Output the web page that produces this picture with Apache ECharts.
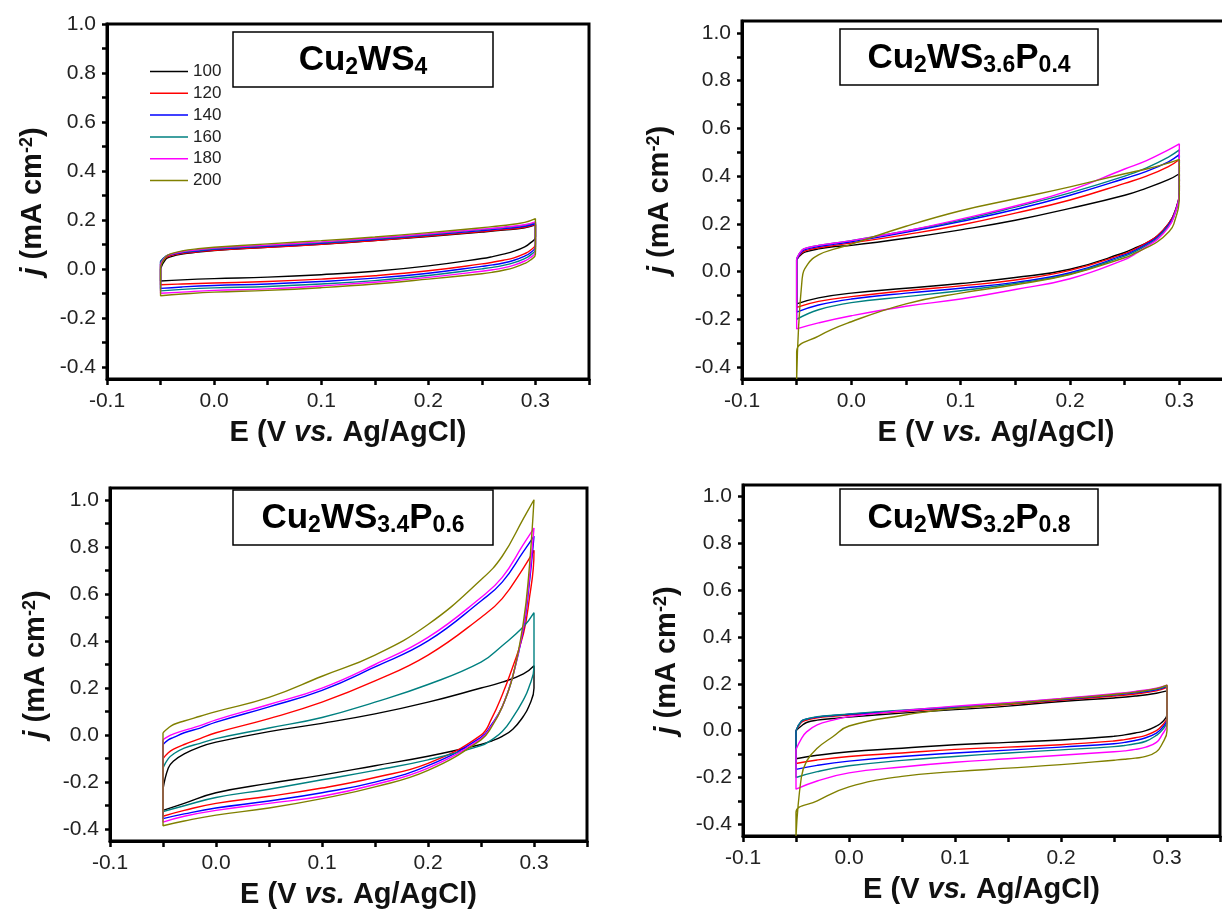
<!DOCTYPE html>
<html>
<head>
<meta charset="utf-8">
<title>CV curves</title>
<script src="https://cdn.jsdelivr.net/npm/echarts@6/dist/echarts.min.js"></script>
<style>
  html, body { margin: 0; padding: 0; background: #fff; }
  #chart { width: 1222px; height: 909px; }
</style>
</head>
<body>
<div id="chart"></div>
<script>
// scan rates shown in the legend (mV s-1)
const scanRates = ['100', '120', '140', '160', '180', '200']
const colors = ['#000000', '#ff0000', '#0000ff', '#008080', '#ff00ff', '#808000']

// potential (V vs. Ag/AgCl) for the forward and the reverse sweep
const eForward = [-0.05, -0.045, -0.04, -0.03, -0.015, 0, 0.05, 0.1, 0.15, 0.2, 0.25, 0.27, 0.29, 0.3]
const eReverse = [0.3, 0.295, 0.29, 0.28, 0.27, 0.26, 0.25, 0.2, 0.15, 0.1, 0.05, 0, -0.03, -0.05]

// tick positions
const xTicks = [-0.1, -0.05, 0, 0.05, 0.1, 0.15, 0.2, 0.25, 0.3, 0.35]
const xLabels = [-0.1, 0, 0.1, 0.2, 0.3]
const yTicks = [-0.4, -0.3, -0.2, -0.1, 0, 0.1, 0.2, 0.3, 0.4, 0.5, 0.6, 0.7, 0.8, 0.9, 1.0]
const yLabels = [-0.4, -0.2, 0, 0.2, 0.4, 0.6, 0.8, 1.0]

// current density j (mA cm-2), one row per scan rate
const cu2ws4Fwd = [
  [0.00, 0.04, 0.05, 0.06, 0.068, 0.075, 0.088, 0.10, 0.115, 0.132, 0.15, 0.158, 0.168, 0.18],
  [0.02, 0.045, 0.055, 0.063, 0.07, 0.076, 0.088, 0.10, 0.116, 0.134, 0.152, 0.16, 0.17, 0.182],
  [0.03, 0.05, 0.058, 0.066, 0.073, 0.08, 0.092, 0.104, 0.12, 0.138, 0.156, 0.164, 0.174, 0.185],
  [0.03, 0.052, 0.06, 0.068, 0.076, 0.082, 0.095, 0.107, 0.123, 0.14, 0.16, 0.168, 0.178, 0.19],
  [0.02, 0.05, 0.06, 0.07, 0.078, 0.085, 0.097, 0.11, 0.126, 0.143, 0.162, 0.17, 0.18, 0.192],
  [0.01, 0.05, 0.062, 0.073, 0.082, 0.088, 0.102, 0.115, 0.13, 0.148, 0.168, 0.177, 0.19, 0.205]
]
const cu2ws4Rev = [
  [0.13, 0.105, 0.09, 0.072, 0.06, 0.05, 0.042, 0.012, -0.01, -0.024, -0.034, -0.04, -0.045, -0.05],
  [0.10, 0.075, 0.062, 0.045, 0.035, 0.027, 0.02, -0.008, -0.028, -0.042, -0.052, -0.058, -0.062, -0.065],
  [0.09, 0.065, 0.052, 0.035, 0.024, 0.016, 0.01, -0.018, -0.038, -0.052, -0.062, -0.068, -0.074, -0.08],
  [0.08, 0.055, 0.042, 0.025, 0.014, 0.006, 0.0, -0.027, -0.048, -0.062, -0.072, -0.078, -0.084, -0.09],
  [0.07, 0.045, 0.032, 0.015, 0.004, -0.004, -0.01, -0.035, -0.055, -0.07, -0.082, -0.088, -0.095, -0.10],
  [0.06, 0.035, 0.022, 0.005, -0.006, -0.014, -0.02, -0.042, -0.062, -0.077, -0.088, -0.095, -0.103, -0.11]
]

const p04Fwd = [
  [0.05, 0.075, 0.085, 0.095, 0.105, 0.11, 0.14, 0.175, 0.215, 0.265, 0.32, 0.35, 0.385, 0.41],
  [0.05, 0.08, 0.09, 0.10, 0.11, 0.12, 0.155, 0.195, 0.245, 0.30, 0.37, 0.40, 0.44, 0.47],
  [0.05, 0.085, 0.095, 0.105, 0.115, 0.125, 0.165, 0.21, 0.26, 0.32, 0.39, 0.42, 0.46, 0.49],
  [0.055, 0.09, 0.10, 0.11, 0.12, 0.13, 0.17, 0.215, 0.27, 0.33, 0.40, 0.435, 0.48, 0.51],
  [0.055, 0.09, 0.10, 0.11, 0.12, 0.13, 0.17, 0.22, 0.275, 0.34, 0.43, 0.465, 0.51, 0.535],
  [-0.45, -0.03, 0.03, 0.07, 0.095, 0.115, 0.19, 0.255, 0.305, 0.355, 0.41, 0.43, 0.455, 0.47]
]
const p04Rev = [
  [0.33, 0.24, 0.2, 0.15, 0.12, 0.1, 0.08, 0.01, -0.025, -0.05, -0.07, -0.09, -0.11, -0.135],
  [0.33, 0.24, 0.2, 0.15, 0.12, 0.095, 0.075, 0.005, -0.035, -0.06, -0.08, -0.105, -0.125, -0.15],
  [0.33, 0.235, 0.195, 0.145, 0.115, 0.09, 0.07, -0.005, -0.045, -0.07, -0.09, -0.115, -0.14, -0.17],
  [0.33, 0.23, 0.19, 0.14, 0.11, 0.085, 0.065, -0.01, -0.05, -0.08, -0.105, -0.13, -0.16, -0.20],
  [0.33, 0.23, 0.185, 0.135, 0.105, 0.075, 0.05, -0.03, -0.075, -0.115, -0.145, -0.185, -0.215, -0.24],
  [0.32, 0.2, 0.165, 0.125, 0.1, 0.078, 0.058, -0.012, -0.055, -0.09, -0.135, -0.21, -0.27, -0.335]
]

const p06Fwd = [
  [-0.23, -0.14, -0.11, -0.08, -0.05, -0.03, 0.015, 0.05, 0.09, 0.14, 0.2, 0.225, 0.26, 0.295],
  [-0.1, -0.075, -0.06, -0.04, -0.015, 0.01, 0.07, 0.14, 0.23, 0.34, 0.5, 0.58, 0.71, 0.785],
  [-0.04, -0.02, -0.01, 0.01, 0.03, 0.055, 0.12, 0.19, 0.29, 0.4, 0.57, 0.65, 0.78, 0.845],
  [-0.14, -0.1, -0.08, -0.055, -0.035, -0.015, 0.03, 0.075, 0.14, 0.215, 0.31, 0.38, 0.46, 0.52],
  [-0.02, -0.005, 0.005, 0.02, 0.04, 0.065, 0.13, 0.2, 0.3, 0.415, 0.585, 0.67, 0.81, 0.88],
  [0.01, 0.03, 0.045, 0.06, 0.08, 0.1, 0.16, 0.25, 0.34, 0.47, 0.66, 0.76, 0.92, 1.0]
]
const p06Rev = [
  [0.2, 0.12, 0.08, 0.025, -0.005, -0.025, -0.04, -0.09, -0.13, -0.17, -0.205, -0.245, -0.29, -0.32],
  [0.78, 0.56, 0.43, 0.29, 0.17, 0.07, 0.0, -0.12, -0.18, -0.225, -0.26, -0.29, -0.32, -0.345],
  [0.845, 0.62, 0.45, 0.25, 0.12, 0.045, -0.01, -0.13, -0.2, -0.245, -0.28, -0.31, -0.335, -0.355],
  [0.29, 0.2, 0.15, 0.075, 0.015, -0.02, -0.045, -0.105, -0.15, -0.19, -0.23, -0.265, -0.3, -0.325],
  [0.88, 0.64, 0.46, 0.25, 0.12, 0.04, -0.015, -0.14, -0.21, -0.26, -0.29, -0.32, -0.345, -0.37],
  [1.0, 0.68, 0.48, 0.25, 0.12, 0.035, -0.02, -0.15, -0.22, -0.27, -0.31, -0.34, -0.365, -0.385]
]

const p08Fwd = [
  [0.0, 0.02, 0.035, 0.045, 0.052, 0.058, 0.075, 0.09, 0.105, 0.125, 0.14, 0.148, 0.16, 0.17],
  [0.0, 0.035, 0.045, 0.055, 0.062, 0.067, 0.082, 0.097, 0.112, 0.13, 0.148, 0.157, 0.17, 0.185],
  [0.0, 0.04, 0.05, 0.058, 0.065, 0.07, 0.085, 0.1, 0.115, 0.133, 0.152, 0.162, 0.175, 0.19],
  [0.0, 0.04, 0.05, 0.06, 0.066, 0.072, 0.088, 0.102, 0.118, 0.136, 0.155, 0.165, 0.178, 0.192],
  [-0.08, -0.035, -0.005, 0.025, 0.045, 0.06, 0.085, 0.105, 0.12, 0.138, 0.158, 0.168, 0.182, 0.195],
  [-0.45, -0.2, -0.13, -0.075, -0.025, 0.02, 0.065, 0.095, 0.115, 0.135, 0.155, 0.165, 0.18, 0.195]
]
const p08Rev = [
  [0.07, 0.035, 0.02, 0.0, -0.01, -0.018, -0.024, -0.04, -0.05, -0.06, -0.075, -0.09, -0.105, -0.12],
  [0.06, 0.02, 0.0, -0.02, -0.03, -0.038, -0.044, -0.06, -0.07, -0.08, -0.095, -0.11, -0.125, -0.14],
  [0.05, 0.01, -0.01, -0.03, -0.042, -0.05, -0.056, -0.07, -0.083, -0.095, -0.11, -0.13, -0.148, -0.165],
  [0.04, 0.0, -0.02, -0.045, -0.056, -0.063, -0.068, -0.082, -0.095, -0.11, -0.127, -0.15, -0.175, -0.20],
  [0.03, -0.02, -0.05, -0.07, -0.08, -0.086, -0.09, -0.105, -0.12, -0.135, -0.155, -0.18, -0.215, -0.25],
  [0.0, -0.06, -0.09, -0.11, -0.117, -0.122, -0.126, -0.145, -0.16, -0.175, -0.195, -0.24, -0.3, -0.35]
]

const font = '"Liberation Sans", Arial, Helvetica, sans-serif'

const panels = [
  { title: 'Cu{s|2}WS{s|4}', fwd: cu2ws4Fwd, rev: cu2ws4Rev, yMax: 1.0, xShift: 0, yGap: 60,
    grid: { left: 107, top: 24, width: 482, height: 355 }, box: [233, 32, 260, 55] },
  { title: 'Cu{s|2}WS{s|3.6}P{s|0.4}', fwd: p04Fwd, rev: p04Rev, yMax: 1.05, xShift: 16, yGap: 68,
    grid: { left: 742, top: 21, width: 492, height: 358 }, box: [840, 29, 258, 56] },
  { title: 'Cu{s|2}WS{s|3.4}P{s|0.6}', fwd: p06Fwd, rev: p06Rev, yMax: 1.05, xShift: 20, yGap: 60,
    grid: { left: 110, top: 488, width: 477, height: 353 }, box: [233, 490, 260, 55] },
  { title: 'Cu{s|2}WS{s|3.2}P{s|0.8}', fwd: p08Fwd, rev: p08Rev, yMax: 1.05, xShift: 0, yGap: 62,
    grid: { left: 743, top: 485, width: 477, height: 351 }, box: [840, 489, 258, 56] }
]

// one closed CV loop: forward sweep, reverse sweep, back to the start
function loop(fwd, rev) {
  const pts = fwd.map((j, i) => [eForward[i], j])
  rev.forEach((j, i) => pts.push([eReverse[i], j]))
  pts.push(pts[0])
  return pts
}

const grids = [], xAxes = [], yAxes = [], series = [], graphics = []

panels.forEach((p, k) => {
  grids.push(Object.assign({
    show: true, borderColor: '#000', borderWidth: 3, backgroundColor: 'transparent',
    containLabel: false, outerBoundsMode: 'none'
  }, p.grid))

  xAxes.push({
    gridIndex: k, type: 'value', min: -0.1, max: 0.35,
    axisLine: { onZero: false, lineStyle: { color: '#000', width: 3 } },
    axisTick: { length: 6, lineStyle: { color: '#000', width: 2.5 }, customValues: xTicks },
    axisLabel: { customValues: xLabels, formatter: v => v.toFixed(1), fontSize: 21,
      color: '#222', margin: 12, fontFamily: font },
    splitLine: { show: false },
    name: 'E (V {i|vs.} Ag/AgCl)', nameLocation: 'middle', nameGap: 39,
    nameTextStyle: { fontSize: 29, fontWeight: 'bold', color: '#111', fontFamily: font,
      padding: [0, 0, 0, p.xShift],
      rich: { i: { fontSize: 29, fontWeight: 'bold', fontStyle: 'italic', color: '#111', fontFamily: font } } }
  })

  yAxes.push({
    gridIndex: k, type: 'value', min: -0.45, max: p.yMax,
    axisLine: { onZero: false, lineStyle: { color: '#000', width: 3 } },
    axisTick: { length: 5, lineStyle: { color: '#000', width: 2.5 }, customValues: yTicks },
    axisLabel: { customValues: yLabels, formatter: v => v.toFixed(1), fontSize: 21,
      color: '#222', margin: 11, fontFamily: font },
    splitLine: { show: false },
    name: '{i|j} (mA cm{sup|-2})', nameLocation: 'middle', nameGap: p.yGap,
    nameTextStyle: { fontSize: 29, fontWeight: 'bold', color: '#111', fontFamily: font,
      rich: {
        i: { fontSize: 29, fontWeight: 'bold', fontStyle: 'italic', color: '#111', fontFamily: font },
        sup: { fontSize: 18, fontWeight: 'bold', color: '#111', fontFamily: font, verticalAlign: 'top', lineHeight: 14 }
      } }
  })

  p.fwd.forEach((row, i) => {
    series.push({
      name: scanRates[i], type: 'line', xAxisIndex: k, yAxisIndex: k,
      data: loop(row, p.rev[i]), showSymbol: false, symbol: 'none',
      smooth: 0.45, lineStyle: { color: colors[i], width: 1.4 }, itemStyle: { color: colors[i] },
      animation: false
    })
  })

  const [bx, by, bw, bh] = p.box
  graphics.push({
    type: 'rect', shape: { x: bx, y: by, width: bw, height: bh },
    style: { fill: '#fff', stroke: '#000', lineWidth: 1.5 }, z: 100
  })
  graphics.push({
    type: 'text', x: bx + bw / 2, y: by + bh / 2 + 1, z: 101,
    style: {
      text: p.title, align: 'center', verticalAlign: 'middle',
      fontSize: 35, fontWeight: 'bold', fontFamily: font, fill: '#000', lineHeight: 38,
      rich: { s: { fontSize: 23, fontWeight: 'bold', fontFamily: font, fill: '#000', lineHeight: 22, verticalAlign: 'bottom' } }
    }
  })
})

const chart = echarts.init(document.getElementById('chart'))
chart.setOption({
  backgroundColor: '#fff',
  animation: false,
  grid: grids,
  xAxis: xAxes,
  yAxis: yAxes,
  legend: {
    data: scanRates, orient: 'vertical', left: 150, top: 63, padding: 0,
    icon: 'rect', itemWidth: 38, itemHeight: 1.5, itemGap: 4.8,
    textStyle: { fontSize: 17, color: '#222', fontFamily: font, lineHeight: 17 },
    selectedMode: false
  },
  series: series,
  graphic: graphics
})
</script>
</body>
</html>
